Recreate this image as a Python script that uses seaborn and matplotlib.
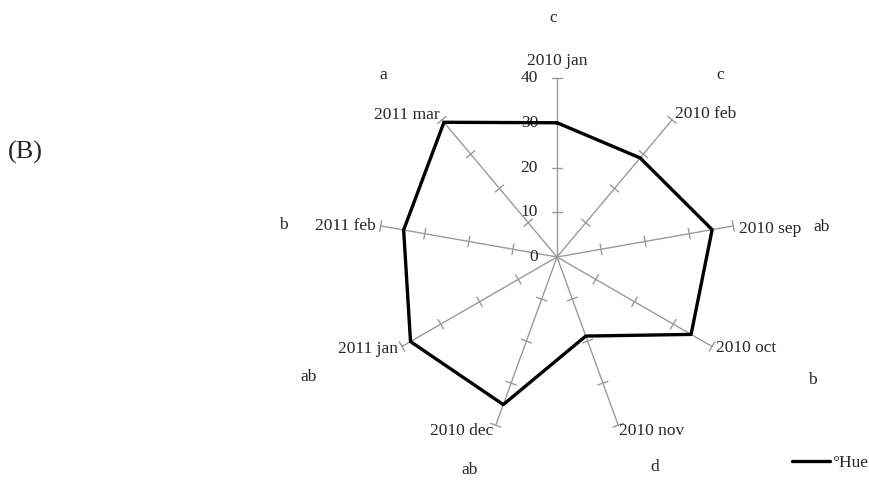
import numpy as np
import pandas as pd
import seaborn as sns
import matplotlib.pyplot as plt

# data
months = ['2010 jan', '2010 feb', '2010 sep', '2010 oct', '2010 nov',
          '2010 dec', '2011 jan', '2011 feb', '2011 mar']
hue = [30.0, 28.9, 35.2, 34.6, 18.8, 35.1, 37.8, 34.8, 39.3]
letters = ['c', 'c', 'ab', 'b', 'd', 'ab', 'ab', 'b', 'a']
radial_ticks = [0, 10, 20, 30, 40]

# layout (pixels of the 869x484 figure)
W, H = 869, 484
cx, cy = 557, 257
px_per_unit = 4.475
# label offsets (px right, px down) from the spoke end
label_off = [(0, -17), (3, -6), (6, 3), (4, 2), (1, 6),
             (-3, 6), (-4, 3), (-5, 0), (-2, -5)]
# letter positions in pixels
letter_px = [(553, 18), (720, 75), (822, 227), (812, 380), (655, 467),
             (470, 470), (309, 377), (283, 225), (383, 75)]

sns.set_style('white')
plt.rcParams['font.family'] = ['Liberation Serif', 'DejaVu Serif']
fs = 12.5

fig = plt.figure(figsize=(W / 100, H / 100), dpi=100)
ax = fig.add_axes([0, 0, 1, 1])
ax.set_xlim(-cx / px_per_unit, (W - cx) / px_per_unit)
ax.set_ylim(-(H - cy) / px_per_unit, cy / px_per_unit)
ax.axis('off')

n = len(months)
angles = np.deg2rad(90 - 360 / n * np.arange(n))
rmax = radial_ticks[-1]

# spokes with little cross ticks
for a in angles:
    ax.plot([0, rmax * np.cos(a)], [0, rmax * np.sin(a)], color='#9a9a9a', lw=1, zorder=1)
    for r in radial_ticks[1:]:
        px, py = -np.sin(a), np.cos(a)
        hx, hy = r * np.cos(a), r * np.sin(a)
        ax.plot([hx - 1.2 * px, hx + 1.2 * px], [hy - 1.2 * py, hy + 1.2 * py],
                color='#9a9a9a', lw=1, zorder=1)

# radial tick labels on the first spoke
for r in radial_ticks:
    ax.text(-19 / px_per_unit, r, str(r), ha='right', va='center', fontsize=fs)

# spoke labels
for i, (a, lab) in enumerate(zip(angles, months)):
    ex, ey = rmax * np.cos(a), rmax * np.sin(a)
    c = np.cos(a)
    ha = 'left' if c > 0.1 else ('right' if c < -0.1 else 'center')
    ox, oy = label_off[i]
    ax.annotate(lab, (ex, ey), xytext=(ox * 0.72, -oy * 0.72), textcoords='offset points',
                ha=ha, va='center', fontsize=fs)

# significance letters
for (lx, ly), t in zip(letter_px, letters):
    ax.text((lx - cx) / px_per_unit, (cy - ly) / px_per_unit, t,
            ha='center', va='center', fontsize=fs)

# polygon
df = pd.DataFrame({'month': months + months[:1], 'hue': hue + hue[:1]})
ang = np.concatenate([angles, angles[:1]])
df['x'] = df['hue'] * np.cos(ang)
df['y'] = df['hue'] * np.sin(ang)
sns.lineplot(data=df, x='x', y='y', sort=False, estimator=None, color='black',
             lw=2.4, ax=ax, label='°Hue', zorder=3)
ax.set_xlabel('')
ax.set_ylabel('')

ax.legend(loc='center left', bbox_to_anchor=(792 / W, 1 - 463 / H),
          bbox_transform=fig.transFigure, frameon=False, fontsize=fs,
          handlelength=2.2, handletextpad=0.1, borderpad=0, borderaxespad=0)

fig.text(8 / W, 1 - 152 / H, '(B)', ha='left', va='center', fontsize=19)

fig.savefig('out.png', dpi=100)
